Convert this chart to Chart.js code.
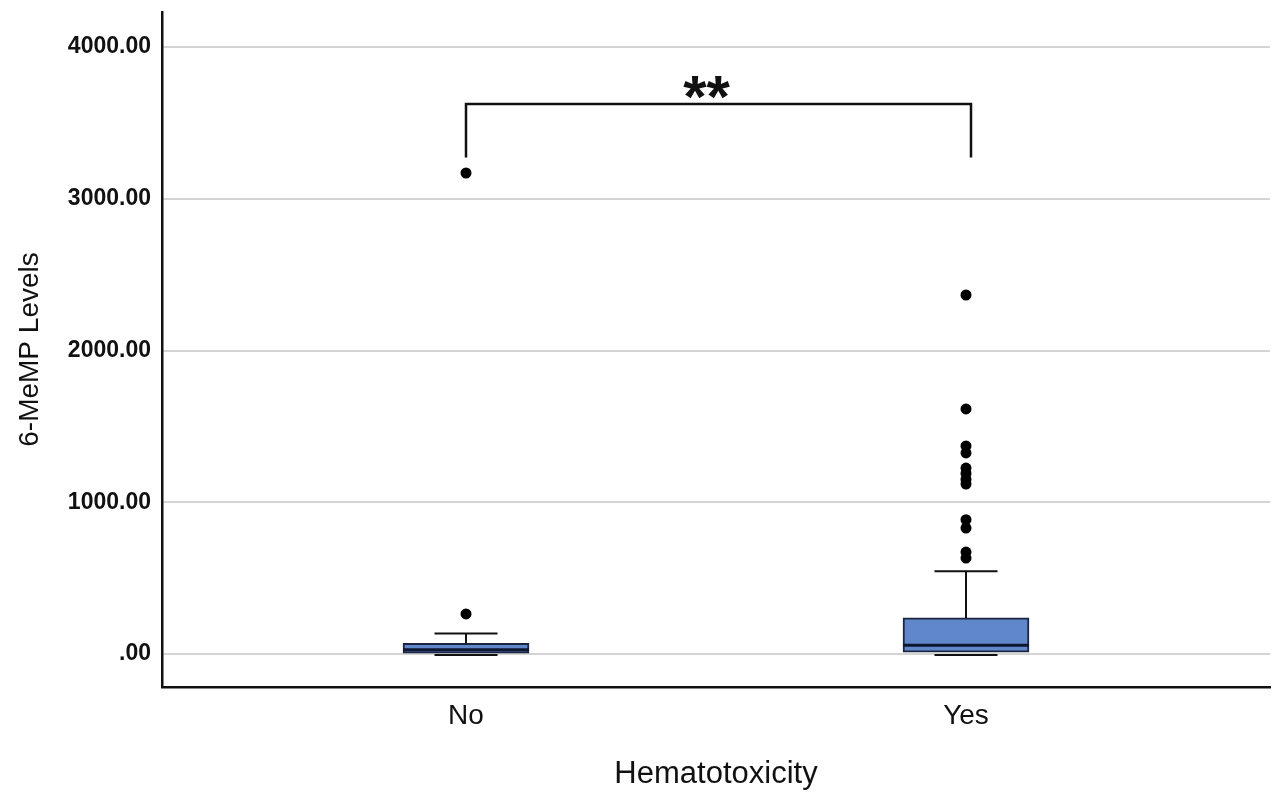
<!DOCTYPE html>
<html>
<head>
<meta charset="utf-8">
<title>6-MeMP Levels by Hematotoxicity</title>
<script src="https://cdn.jsdelivr.net/npm/chart.js@4.4.1/dist/chart.umd.min.js"></script>
<style>
  html, body { margin: 0; padding: 0; background: #fff; }
  #wrap { width: 1286px; height: 808px; position: relative; }
</style>
</head>
<body>
<div id="wrap"><canvas id="chart"></canvas></div>
<script>
// groups on the x axis
const groups = ['No', 'Yes']

// box plot summary per group (6-MeMP levels)
const whiskerLow = [0, 0]
const q1 = [5, 12]
const median = [28, 58]
const q3 = [70, 238]
const whiskerHigh = [135, 545]

// outliers
const outliersNo = [264, 3170]
const outliersYes = [632, 672, 830, 885, 1120, 1150, 1190, 1225, 1325, 1371, 1615, 2366]

// significance bracket: x ends, [top, foot] and label
const bracketX = [0, 1.01]
const bracket = [3625, 3272]
const bracketLabel = '**'

const yTicks = [0, 1000, 2000, 3000, 4000]

const FONT = "'Liberation Sans', Arial, sans-serif"

// whiskers, caps, medians and the significance bracket
const boxExtras = {
  id: 'boxExtras',
  afterDatasetsDraw(chart) {
    const ctx = chart.ctx
    const x = chart.scales.x
    const y = chart.scales.y
    const boxW = 126
    const capW = 63

    ctx.save()
    groups.forEach((g, i) => {
      const cx = x.getPixelForValue(i)
      // upper whisker
      ctx.strokeStyle = '#111'
      ctx.lineWidth = 2
      ctx.beginPath()
      ctx.moveTo(cx, y.getPixelForValue(q3[i]))
      ctx.lineTo(cx, y.getPixelForValue(whiskerHigh[i]))
      ctx.moveTo(cx - capW / 2, y.getPixelForValue(whiskerHigh[i]))
      ctx.lineTo(cx + capW / 2, y.getPixelForValue(whiskerHigh[i]))
      ctx.stroke()
      // lower whisker cap
      ctx.beginPath()
      ctx.moveTo(cx - capW / 2, y.getPixelForValue(whiskerLow[i]) + 1)
      ctx.lineTo(cx + capW / 2, y.getPixelForValue(whiskerLow[i]) + 1)
      ctx.stroke()
      // median
      ctx.strokeStyle = '#0e1730'
      ctx.lineWidth = 3
      ctx.beginPath()
      ctx.moveTo(cx - boxW / 2, y.getPixelForValue(median[i]))
      ctx.lineTo(cx + boxW / 2, y.getPixelForValue(median[i]))
      ctx.stroke()
    })

    // bracket
    const x0 = x.getPixelForValue(bracketX[0])
    const x1 = x.getPixelForValue(bracketX[1])
    const yt = y.getPixelForValue(bracket[0])
    const yf = y.getPixelForValue(bracket[1])
    ctx.strokeStyle = '#111'
    ctx.lineWidth = 2.5
    ctx.beginPath()
    ctx.moveTo(x0, yf)
    ctx.lineTo(x0, yt)
    ctx.lineTo(x1, yt)
    ctx.lineTo(x1, yf)
    ctx.stroke()

    ctx.fillStyle = '#111'
    ctx.font = 'bold 60px ' + FONT
    ctx.textAlign = 'center'
    ctx.textBaseline = 'alphabetic'
    const m = ctx.measureText(bracketLabel)
    const h = m.actualBoundingBoxAscent + m.actualBoundingBoxDescent
    const cy = yt - 16
    ctx.fillText(bracketLabel, (x0 + x1) / 2 - 12, cy - h / 2 + m.actualBoundingBoxAscent)
    ctx.restore()
  }
}

const data = {
  datasets: [
    {
      type: 'bar',
      data: groups.map((g, i) => ({ x: i, y: [q1[i], q3[i]] })),
      backgroundColor: '#5f87c9',
      borderColor: '#1b2440',
      borderWidth: 2,
      borderSkipped: false,
      barThickness: 126
    },
    {
      type: 'scatter',
      data: outliersNo.map(v => ({ x: 0, y: v })).concat(outliersYes.map(v => ({ x: 1, y: v }))),
      pointRadius: 5.5,
      pointBackgroundColor: '#000',
      pointBorderWidth: 0
    }
  ]
}

new Chart(document.getElementById('chart'), {
  type: 'bar',
  data: data,
  plugins: [boxExtras],
  options: {
    responsive: true,
    maintainAspectRatio: false,
    animation: false,
    layout: { padding: { top: 12, right: 16, left: 0, bottom: 0 } },
    plugins: { legend: { display: false }, tooltip: { enabled: false } },
    scales: {
      x: {
        type: 'linear',
        offset: false,
        min: -0.608,
        max: 1.608,
        afterBuildTicks: s => { s.ticks = [{ value: 0 }, { value: 1 }] },
        afterFit: s => { s.height = 121; s.paddingLeft = 0; s.paddingRight = 0 },
        grid: { display: false, drawTicks: false, offset: false },
        border: { display: true, color: '#111', width: 2.5 },
        ticks: {
          padding: 12,
          color: '#111',
          font: { family: FONT, size: 28 },
          callback: v => groups[v]
        },
        title: {
          display: true,
          text: 'Hematotoxicity',
          color: '#111',
          font: { family: FONT, size: 31 },
          padding: { top: 0, bottom: 15 }
        }
      },
      y: {
        min: -217.5,
        max: 4231,
        afterBuildTicks: s => { s.ticks = yTicks.map(v => ({ value: v })) },
        afterFit: s => { s.width = 162; s.paddingTop = 0; s.paddingBottom = 0 },
        grid: { color: '#d4d4d4', lineWidth: 2, drawTicks: false },
        border: { display: true, color: '#111', width: 2.5 },
        ticks: {
          padding: 11,
          color: '#111',
          font: { family: FONT, size: 23, weight: 'bold' },
          callback: v => v === 0 ? '.00' : v.toFixed(2)
        },
        title: {
          display: true,
          text: '6-MeMP Levels',
          color: '#111',
          font: { family: FONT, size: 28 },
          padding: { top: 13, bottom: 0 }
        }
      }
    }
  }
})
</script>
</body>
</html>
